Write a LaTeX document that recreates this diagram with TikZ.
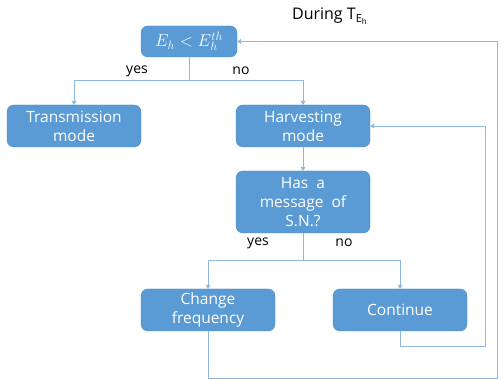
\documentclass[tikz,border=0pt]{standalone}
\usepackage{fontspec}
\setmainfont{Open Sans}
\usetikzlibrary{arrows.meta}
\definecolor{boxfill}{HTML}{5B9BD5}
\definecolor{boxedge}{HTML}{4A86C0}
\definecolor{linec}{HTML}{8DB8E2}
\begin{document}
\begin{tikzpicture}[x=1pt,y=-1pt,
  flowbox/.style={draw=boxedge,fill=boxfill,rounded corners=7pt,text=white,
    minimum width=134pt,minimum height=42pt,align=center,inner sep=1pt,
    font=\fontsize{15.5}{19}\selectfont},
  conn/.style={draw=linec,line width=0.9pt},
  arr/.style={conn,-{Triangle[width=5pt,length=4pt]}},
  lbl/.style={font=\fontsize{14}{16}\selectfont,text=black}]
\useasboundingbox (0,0) rectangle (501,379);
\node[font=\fontsize{16}{18}\selectfont] (title) at (330,16) {During $\mathrm{T}_{\mathrm{E_h}}$};
\node[flowbox,minimum width=96pt,minimum height=31pt,font=\fontsize{18}{20}\selectfont] (cond) at (189,41.5) {$E_h < E_h^{th}$};
\node[flowbox] (trans) at (74,126) {Transmission\\mode};
\node[flowbox] (harv) at (303,126) {Harvesting\\mode};
\node[flowbox,minimum height=62pt] (msg) at (303,202) {Has\ \ a\\message\ \ of\\S.N.?};
\node[flowbox] (chg) at (208,310) {Change\\frequency};
\node[flowbox] (cont) at (400,310) {Continue};
\node[lbl] (yes1) at (137,71) {yes};
\node[lbl] (no1) at (241,71) {no};
\node[lbl] (yes2) at (258,243) {yes};
\node[lbl] (no2) at (344,243) {no};
\coordinate (s1) at (189,80);
\coordinate (s2) at (303,260);
\draw[conn] (cond.south) -- (s1);
\draw[arr] (s1) -| (trans.north);
\draw[arr] (s1) -| (harv.north);
\draw[arr] (harv.south) -- (msg.north);
\draw[conn] (msg.south) -- (s2);
\draw[arr] (s2) -| (chg.north);
\draw[arr] (s2) -| (cont.north);
\coordinate (c1) at (400,346);
\coordinate (c2) at (485,346);
\coordinate (c3) at (485,126);
\draw[arr] (cont.south) -- (c1) -- (c2) -- (c3) -- (harv.east);
\coordinate (f1) at (208,378);
\coordinate (f2) at (497,378);
\coordinate (f3) at (497,41.5);
\draw[arr] (chg.south) -- (f1) -- (f2) -- (f3) -- (cond.east);
\end{tikzpicture}
\end{document}
